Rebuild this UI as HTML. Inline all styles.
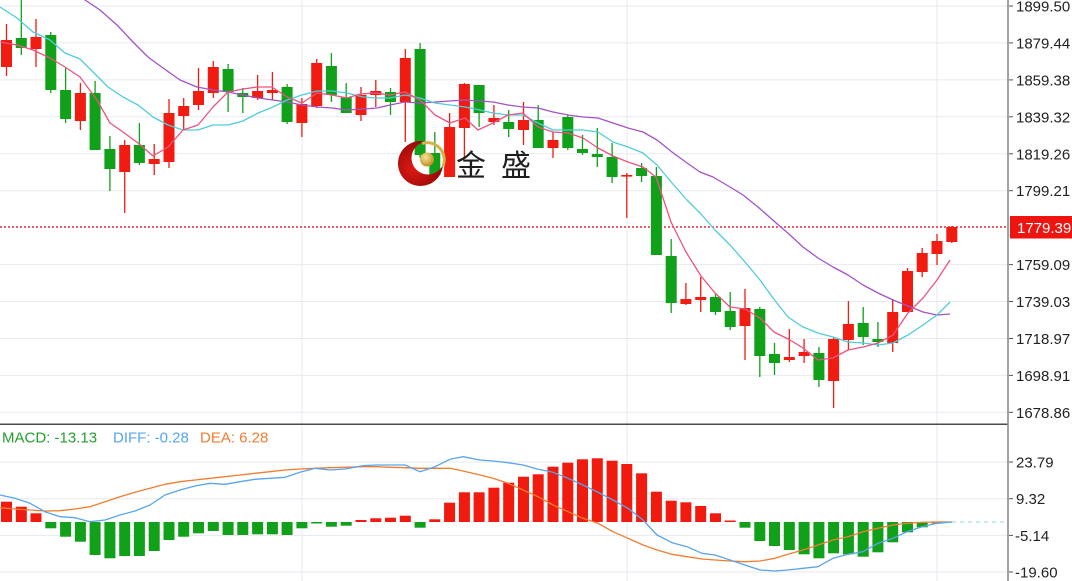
<!DOCTYPE html>
<html><head><meta charset="utf-8"><style>
html,body{margin:0;padding:0;background:#fff;}
svg{display:block;}
text{font-family:"Liberation Sans","Noto Sans CJK SC",sans-serif;}
</style></head><body>
<svg width="1072" height="581" viewBox="0 0 1072 581" xmlns="http://www.w3.org/2000/svg">
<defs>
<radialGradient id="rg" cx="0.35" cy="0.6" r="0.7"><stop offset="0" stop-color="#e01a14"/><stop offset="1" stop-color="#8c0606"/></radialGradient>
<radialGradient id="gb" cx="0.4" cy="0.35" r="0.7"><stop offset="0" stop-color="#f6e49a"/><stop offset="1" stop-color="#b88a18"/></radialGradient>
<mask id="cm"><rect x="380" y="130" width="80" height="70" fill="#fff"/><circle cx="428" cy="158" r="16.5" fill="#000"/></mask>
</defs>
<rect width="1072" height="581" fill="#fff"/>
<!-- grid -->
<g stroke="#e7eaf0" stroke-width="1">
<line x1="0" x2="1008" y1="6" y2="6"/><line x1="0" x2="1008" y1="42.9" y2="42.9"/><line x1="0" x2="1008" y1="79.9" y2="79.9"/><line x1="0" x2="1008" y1="116.8" y2="116.8"/><line x1="0" x2="1008" y1="153.8" y2="153.8"/><line x1="0" x2="1008" y1="190.7" y2="190.7"/><line x1="0" x2="1008" y1="264.6" y2="264.6"/><line x1="0" x2="1008" y1="301.5" y2="301.5"/><line x1="0" x2="1008" y1="338.5" y2="338.5"/><line x1="0" x2="1008" y1="375.4" y2="375.4"/><line x1="0" x2="1008" y1="412.3" y2="412.3"/>
<line x1="0" x2="1008" y1="462" y2="462"/><line x1="0" x2="1008" y1="498.7" y2="498.7"/><line x1="0" x2="1008" y1="535.4" y2="535.4"/><line x1="0" x2="1008" y1="572" y2="572"/>
<line x1="302" x2="302" y1="0" y2="581"/><line x1="627" x2="627" y1="0" y2="581"/><line x1="937" x2="937" y1="0" y2="581"/>
</g>
<!-- last price dotted line -->
<line x1="0" x2="1008" y1="227" y2="227" stroke="#e82a36" stroke-width="1.6" stroke-dasharray="2,2"/>
<!-- candles -->
<g stroke-width="1.3">
<g stroke="#f01c12" fill="#f01c12">
<line x1="6.5" x2="6.5" y1="24" y2="76"/><rect x="1" y="40" width="11" height="27" stroke="none"/>
<line x1="36" x2="36" y1="19" y2="67"/><rect x="30.5" y="37" width="11" height="12" stroke="none"/>
<line x1="80.4" x2="80.4" y1="83" y2="130"/><rect x="74.9" y="93" width="11" height="28" stroke="none"/>
<line x1="124.7" x2="124.7" y1="140" y2="213"/><rect x="119.2" y="145" width="11" height="27" stroke="none"/>
<line x1="154.2" x2="154.2" y1="144" y2="175"/><rect x="148.7" y="159" width="11" height="5" stroke="none"/>
<line x1="169" x2="169" y1="99" y2="168"/><rect x="163.5" y="113" width="11" height="49" stroke="none"/>
<line x1="183.7" x2="183.7" y1="98" y2="130"/><rect x="178.2" y="106" width="11" height="10" stroke="none"/>
<line x1="198.5" x2="198.5" y1="68" y2="110"/><rect x="193" y="91" width="11" height="14" stroke="none"/>
<line x1="213.3" x2="213.3" y1="61" y2="98"/><rect x="207.8" y="67" width="11" height="26" stroke="none"/>
<line x1="257.6" x2="257.6" y1="75" y2="100"/><rect x="252.1" y="91" width="11" height="7" stroke="none"/>
<line x1="272.4" x2="272.4" y1="72" y2="100"/><rect x="266.9" y="90" width="11" height="3" stroke="none"/>
<line x1="301.9" x2="301.9" y1="98" y2="137"/><rect x="296.4" y="104" width="11" height="19" stroke="none"/>
<line x1="316.7" x2="316.7" y1="59" y2="108"/><rect x="311.2" y="63" width="11" height="43" stroke="none"/>
<line x1="361" x2="361" y1="87" y2="121"/><rect x="355.5" y="95" width="11" height="20" stroke="none"/>
<line x1="375.8" x2="375.8" y1="80" y2="107"/><rect x="370.3" y="91" width="11" height="4" stroke="none"/>
<line x1="405.3" x2="405.3" y1="49" y2="142"/><rect x="399.8" y="58" width="11" height="44" stroke="none"/>
<line x1="449.6" x2="449.6" y1="113" y2="177"/><rect x="444.1" y="127" width="11" height="50" stroke="none"/>
<line x1="464.4" x2="464.4" y1="83" y2="157"/><rect x="458.9" y="84" width="11" height="44" stroke="none"/>
<line x1="493.9" x2="493.9" y1="105" y2="125"/><rect x="488.4" y="118" width="11" height="4" stroke="none"/>
<line x1="523.5" x2="523.5" y1="102" y2="145"/><rect x="518" y="120" width="11" height="10" stroke="none"/>
<line x1="553" x2="553" y1="132" y2="158"/><rect x="547.5" y="140" width="11" height="8" stroke="none"/>
<line x1="626.8" x2="626.8" y1="173" y2="218"/><rect x="621.3" y="175" width="11" height="1.6" stroke="none"/>
<line x1="685.9" x2="685.9" y1="283" y2="305"/><rect x="680.4" y="299" width="11" height="5" stroke="none"/>
<line x1="700.7" x2="700.7" y1="277" y2="312"/><rect x="695.2" y="297" width="11" height="3" stroke="none"/>
<line x1="745" x2="745" y1="289" y2="360"/><rect x="739.5" y="308" width="11" height="18" stroke="none"/>
<line x1="789.3" x2="789.3" y1="329" y2="362"/><rect x="783.8" y="357" width="11" height="3" stroke="none"/>
<line x1="804.1" x2="804.1" y1="339" y2="363"/><rect x="798.6" y="352" width="11" height="4" stroke="none"/>
<line x1="833.6" x2="833.6" y1="337" y2="408"/><rect x="828.1" y="339" width="11" height="42" stroke="none"/>
<line x1="848.4" x2="848.4" y1="301" y2="350"/><rect x="842.9" y="324" width="11" height="16" stroke="none"/>
<line x1="892.7" x2="892.7" y1="299" y2="352"/><rect x="887.2" y="312" width="11" height="31" stroke="none"/>
<line x1="907.5" x2="907.5" y1="268" y2="312"/><rect x="902" y="271" width="11" height="41" stroke="none"/>
<line x1="922.2" x2="922.2" y1="248" y2="277"/><rect x="916.7" y="253" width="11" height="19" stroke="none"/>
<line x1="937" x2="937" y1="234" y2="265"/><rect x="931.5" y="241" width="11" height="13" stroke="none"/>
<line x1="951.8" x2="951.8" y1="226" y2="243"/><rect x="946.3" y="227" width="11" height="15" stroke="none"/>
</g>
<g stroke="#10a01a" fill="#10a01a">
<line x1="21.3" x2="21.3" y1="0" y2="55"/><rect x="15.8" y="38" width="11" height="10" stroke="none"/>
<line x1="50.8" x2="50.8" y1="32" y2="93"/><rect x="45.3" y="35" width="11" height="55" stroke="none"/>
<line x1="65.6" x2="65.6" y1="68" y2="123"/><rect x="60.1" y="90" width="11" height="29" stroke="none"/>
<line x1="95.1" x2="95.1" y1="81" y2="150"/><rect x="89.6" y="93" width="11" height="57" stroke="none"/>
<line x1="109.9" x2="109.9" y1="136" y2="191"/><rect x="104.4" y="149" width="11" height="20" stroke="none"/>
<line x1="139.4" x2="139.4" y1="123" y2="165"/><rect x="133.9" y="145" width="11" height="18" stroke="none"/>
<line x1="228.1" x2="228.1" y1="64" y2="112"/><rect x="222.6" y="69" width="11" height="23" stroke="none"/>
<line x1="242.8" x2="242.8" y1="88" y2="113"/><rect x="237.3" y="93" width="11" height="4" stroke="none"/>
<line x1="287.1" x2="287.1" y1="84" y2="124"/><rect x="281.6" y="87" width="11" height="35" stroke="none"/>
<line x1="331.4" x2="331.4" y1="53" y2="102"/><rect x="325.9" y="66" width="11" height="29" stroke="none"/>
<line x1="346.2" x2="346.2" y1="83" y2="113"/><rect x="340.7" y="97" width="11" height="16" stroke="none"/>
<line x1="390.5" x2="390.5" y1="88" y2="115"/><rect x="385" y="92" width="11" height="10" stroke="none"/>
<line x1="420.1" x2="420.1" y1="43" y2="158"/><rect x="414.6" y="49" width="11" height="106" stroke="none"/>
<line x1="434.8" x2="434.8" y1="132" y2="178"/><rect x="429.3" y="153" width="11" height="22" stroke="none"/>
<line x1="479.1" x2="479.1" y1="85" y2="127"/><rect x="473.6" y="85" width="11" height="28" stroke="none"/>
<line x1="508.7" x2="508.7" y1="110" y2="137"/><rect x="503.2" y="122" width="11" height="7" stroke="none"/>
<line x1="538.2" x2="538.2" y1="105" y2="148"/><rect x="532.7" y="120" width="11" height="28" stroke="none"/>
<line x1="567.8" x2="567.8" y1="115" y2="150"/><rect x="562.3" y="117" width="11" height="31" stroke="none"/>
<line x1="582.5" x2="582.5" y1="135" y2="155"/><rect x="577" y="149" width="11" height="4" stroke="none"/>
<line x1="597.3" x2="597.3" y1="128" y2="167"/><rect x="591.8" y="154" width="11" height="3" stroke="none"/>
<line x1="612.1" x2="612.1" y1="143" y2="183"/><rect x="606.6" y="157" width="11" height="20" stroke="none"/>
<line x1="641.6" x2="641.6" y1="163" y2="182"/><rect x="636.1" y="168" width="11" height="8" stroke="none"/>
<line x1="656.4" x2="656.4" y1="167" y2="255"/><rect x="650.9" y="176" width="11" height="79" stroke="none"/>
<line x1="671.2" x2="671.2" y1="239" y2="313"/><rect x="665.7" y="256" width="11" height="47" stroke="none"/>
<line x1="715.5" x2="715.5" y1="293" y2="315"/><rect x="710" y="297" width="11" height="15" stroke="none"/>
<line x1="730.2" x2="730.2" y1="292" y2="330"/><rect x="724.7" y="311" width="11" height="16" stroke="none"/>
<line x1="759.8" x2="759.8" y1="307" y2="377"/><rect x="754.3" y="309" width="11" height="47" stroke="none"/>
<line x1="774.5" x2="774.5" y1="343" y2="375"/><rect x="769" y="354" width="11" height="9" stroke="none"/>
<line x1="818.9" x2="818.9" y1="347" y2="387"/><rect x="813.4" y="353" width="11" height="27" stroke="none"/>
<line x1="863.2" x2="863.2" y1="307" y2="345"/><rect x="857.7" y="323" width="11" height="14" stroke="none"/>
<line x1="877.9" x2="877.9" y1="322" y2="347"/><rect x="872.4" y="339" width="11" height="3" stroke="none"/>
</g>
</g>
<!-- MA lines -->
<g fill="none" stroke-width="1.3" stroke-linejoin="round">
<polyline stroke="#a453c4" points="80,-5 85,0 100,10 117,25 133,42 148,57 163,68 180,80 197,87 213,90 228,92 243,95 258,98 273,100 287,102 302,105 317,107 332,108 347,110 363,109 377,108 390,105 405,102 420,103 435,102 450,101 465,100 480,101 493,102 508,105 523,107 538,108 553,112 568,115 583,117 598,118 613,123 628,128 643,132 657,140 672,152 687,163 700,172 713,177 730,187 743,195 758,207 775,222 790,235 803,247 818,258 833,267 848,275 863,285 878,293 893,300 908,306 923,312 937,315 950,314"/>
<polyline stroke="#4fcdd8" points="0,7 17,18 33,32 50,40 65,53 80,59 93,72 108,87 123,97 138,105 153,117 168,125 183,130 198,130 213,125 228,125 243,121 258,113 273,107 287,100 302,95 317,91 332,91 347,93 363,97 377,98 390,98 405,95 420,98 435,103 450,105 465,107 480,110 493,113 508,115 523,115 538,123 553,130 568,130 583,130 598,132 613,142 628,147 643,153 657,165 672,183 687,200 700,213 715,230 730,245 745,262 760,280 773,298 788,317 803,327 818,333 833,337 848,342 863,343 878,345 893,343 908,335 923,325 937,315 950,302"/>
<polyline stroke="#ea5482" points="0,42 17,45 33,50 50,58 65,67 80,77 97,100 110,123 123,132 138,143 153,156 168,147 183,130 198,125 213,107 228,92 243,89 257,87 272,87 287,97 302,103 317,93 332,95 347,98 360,94 375,93 390,95 405,92 420,100 435,115 450,123 465,118 478,130 493,123 508,115 523,113 538,127 553,132 568,133 583,138 598,148 613,156 628,162 643,167 656,177 671,222 686,252 701,276 715,293 730,307 745,309 760,318 774,332 790,340 803,348 818,360 833,358 848,350 863,347 878,343 893,335 908,313 923,298 937,280 950,260"/>
</g>
<!-- logo -->
<g>
<circle cx="420.5" cy="163.5" r="22.5" fill="url(#rg)" mask="url(#cm)"/>
<path d="M422,143.5 A17,17 0 0 1 443,166" fill="none" stroke="#d7b24a" stroke-width="3"/>
<circle cx="427" cy="159.5" r="7" fill="url(#gb)"/>
<text x="456" y="176" font-size="30" fill="#1e1e1e" style="font-family:'Noto Sans CJK SC','WenQuanYi Zen Hei',sans-serif">金</text>
<text x="501" y="176" font-size="30" fill="#1e1e1e" style="font-family:'Noto Sans CJK SC','WenQuanYi Zen Hei',sans-serif">盛</text>
</g>
<!-- separator -->
<line x1="0" x2="1008" y1="424.3" y2="424.3" stroke="#4a4a4a" stroke-width="1.5"/>
<!-- MACD bars -->
<g fill="#f01a0e">
<rect x="1" y="501.7" width="11" height="20.3"/><rect x="15.8" y="506.7" width="11" height="15.3"/><rect x="30.5" y="513.3" width="11" height="8.7"/>
<rect x="355.5" y="520" width="11" height="2"/><rect x="370.3" y="518.3" width="11" height="3.7"/><rect x="385" y="517.7" width="11" height="4.3"/><rect x="399.8" y="515.7" width="11" height="6.3"/>
<rect x="429.3" y="519.3" width="11" height="2.7"/><rect x="444.1" y="502.7" width="11" height="19.3"/><rect x="458.9" y="492.3" width="11" height="29.7"/><rect x="473.6" y="492.3" width="11" height="29.7"/><rect x="488.4" y="487.7" width="11" height="34.3"/><rect x="503.2" y="482.7" width="11" height="39.3"/><rect x="518" y="476.7" width="11" height="45.3"/><rect x="532.7" y="474.3" width="11" height="47.7"/><rect x="547.5" y="466.7" width="11" height="55.3"/><rect x="562.3" y="462.7" width="11" height="59.3"/><rect x="577" y="459.3" width="11" height="62.7"/><rect x="591.8" y="458.3" width="11" height="63.7"/><rect x="606.6" y="460.7" width="11" height="61.3"/><rect x="621.3" y="464" width="11" height="58"/><rect x="636.1" y="473.3" width="11" height="48.7"/><rect x="650.9" y="491.7" width="11" height="30.3"/><rect x="665.7" y="500.7" width="11" height="21.3"/><rect x="680.4" y="502.3" width="11" height="19.7"/><rect x="695.2" y="506" width="11" height="16"/><rect x="710" y="513.3" width="11" height="8.7"/><rect x="724.7" y="520.5" width="11" height="1.5"/>
</g>
<g fill="#10a01a">
<rect x="45.3" y="522" width="11" height="6.3"/><rect x="60.1" y="522" width="11" height="14.7"/><rect x="74.9" y="522" width="11" height="19.7"/><rect x="89.6" y="522" width="11" height="33"/><rect x="104.4" y="522" width="11" height="36.3"/><rect x="119.2" y="522" width="11" height="34"/><rect x="133.9" y="522" width="11" height="34"/><rect x="148.7" y="522" width="11" height="29"/><rect x="163.5" y="522" width="11" height="18"/><rect x="178.2" y="522" width="11" height="14.7"/><rect x="193" y="522" width="11" height="11.3"/><rect x="207.8" y="522" width="11" height="9"/><rect x="222.6" y="522" width="11" height="13"/><rect x="237.3" y="522" width="11" height="13"/><rect x="252.1" y="522" width="11" height="12.3"/><rect x="266.9" y="522" width="11" height="12.3"/><rect x="281.6" y="522" width="11" height="13"/><rect x="296.4" y="522" width="11" height="6.3"/><rect x="311.2" y="522" width="11" height="1.5"/><rect x="325.9" y="522" width="11" height="4.7"/><rect x="340.7" y="522" width="11" height="3.7"/>
<rect x="414.6" y="522" width="11" height="5.7"/>
<rect x="739.5" y="522" width="11" height="5.7"/><rect x="754.3" y="522" width="11" height="19"/><rect x="769" y="522" width="11" height="24"/><rect x="783.8" y="522" width="11" height="28"/><rect x="798.6" y="522" width="11" height="32.3"/><rect x="813.4" y="522" width="11" height="36.3"/><rect x="828.1" y="522" width="11" height="31.3"/><rect x="842.9" y="522" width="11" height="32.3"/><rect x="857.7" y="522" width="11" height="34.7"/><rect x="872.4" y="522" width="11" height="30.3"/><rect x="887.2" y="522" width="11" height="20.3"/><rect x="902" y="522" width="11" height="10.3"/><rect x="916.7" y="522" width="11" height="5.3"/><rect x="931.5" y="522" width="11" height="1.6" fill="#6a9a6a"/>
</g>
<line x1="952" x2="1006" y1="522" y2="522" stroke="#8fd3df" stroke-width="1" stroke-dasharray="4,4"/>
<!-- DIFF / DEA -->
<g fill="none" stroke-width="1.3" stroke-linejoin="round">
<polyline stroke="#f07d30" points="0,507.7 15,509 30,510 45,511 60,510.7 75,509 90,506.7 105,501.7 120,496.7 135,492.3 150,488.3 165,484.3 180,481.7 195,480 210,478.3 225,476.7 240,475 255,473.3 270,471.7 285,470 300,469 315,468.3 330,467.7 345,467.3 363,466.7 377,466.7 390,467.3 405,467.7 420,468.3 435,468.3 450,468.3 463,471 480,475 493,478.3 508,483.3 523,490 538,496.7 553,505 568,511.7 583,518.3 598,523.3 613,531.7 628,538.3 643,545 657,550 672,554.3 687,556.7 702,559 715,560 730,561 745,561.7 760,561 775,558.3 788,554.3 803,550 818,545 833,540 848,536.7 863,531.7 878,528.3 893,525 907,523.3 922,522.3 937,522 952,522"/>
<polyline stroke="#5aa4ea" points="0,495 15,498.3 30,503.3 45,511.7 60,516.7 75,517.7 90,521.7 105,520 120,515 135,511 150,505 165,495 180,490 195,486 210,483.3 225,484.3 240,481.7 255,479.3 270,478.3 285,477.3 300,472.3 315,468.3 330,470 345,469 363,465.7 377,465 390,465 405,465 420,471.7 435,466.7 450,459.3 463,456.7 480,460 493,461 508,462.7 523,465 538,469.3 553,472.3 568,478.3 583,485 598,492.3 613,500 628,508.3 643,520 657,535 672,542.7 687,546.7 702,553.3 715,555 730,560 745,565 760,570 775,571 788,570 803,568.3 818,566.7 833,558.3 848,554.3 863,551.7 878,543.3 893,538.3 907,531.7 922,526.7 937,523.3 952,522"/>
</g>
<!-- MACD labels -->
<g font-size="15">
<text x="2" y="442.5" fill="#22a02a">MACD: -13.13</text>
<text x="113" y="442.5" fill="#5aa4ea">DIFF: -0.28</text>
<text x="200" y="442.5" fill="#f07d30">DEA: 6.28</text>
</g>
<!-- right axis -->
<line x1="1008" x2="1008" y1="0" y2="581" stroke="#8c8c8c" stroke-width="1.6"/>
<g stroke="#555" stroke-width="1">
<line x1="1009" x2="1013" y1="6" y2="6"/><line x1="1009" x2="1013" y1="42.9" y2="42.9"/><line x1="1009" x2="1013" y1="79.9" y2="79.9"/><line x1="1009" x2="1013" y1="116.8" y2="116.8"/><line x1="1009" x2="1013" y1="153.8" y2="153.8"/><line x1="1009" x2="1013" y1="190.7" y2="190.7"/><line x1="1009" x2="1013" y1="264.6" y2="264.6"/><line x1="1009" x2="1013" y1="301.5" y2="301.5"/><line x1="1009" x2="1013" y1="338.5" y2="338.5"/><line x1="1009" x2="1013" y1="375.4" y2="375.4"/><line x1="1009" x2="1013" y1="412.3" y2="412.3"/>
<line x1="1009" x2="1013" y1="462" y2="462"/><line x1="1009" x2="1013" y1="498.7" y2="498.7"/><line x1="1009" x2="1013" y1="535.4" y2="535.4"/><line x1="1009" x2="1013" y1="572" y2="572"/>
</g>
<g font-size="15" fill="#222">
<text x="1016" y="11.5">1899.50</text>
<text x="1016" y="48.4">1879.44</text>
<text x="1016" y="85.4">1859.38</text>
<text x="1016" y="122.3">1839.32</text>
<text x="1016" y="159.3">1819.26</text>
<text x="1016" y="196.2">1799.21</text>
<text x="1016" y="270.1">1759.09</text>
<text x="1016" y="307">1739.03</text>
<text x="1016" y="344">1718.97</text>
<text x="1016" y="380.9">1698.91</text>
<text x="1016" y="417.8">1678.86</text>
<text x="1016" y="467.5">23.79</text>
<text x="1016" y="504.2">9.32</text>
<text x="1015" y="540.9">-5.14</text>
<text x="1015" y="577.5">-19.60</text>
</g>
<rect x="1010" y="216" width="62" height="22.5" fill="#ee1410"/>
<text x="1017" y="233" font-size="15" fill="#fff">1779.39</text>
</svg>
</body></html>
